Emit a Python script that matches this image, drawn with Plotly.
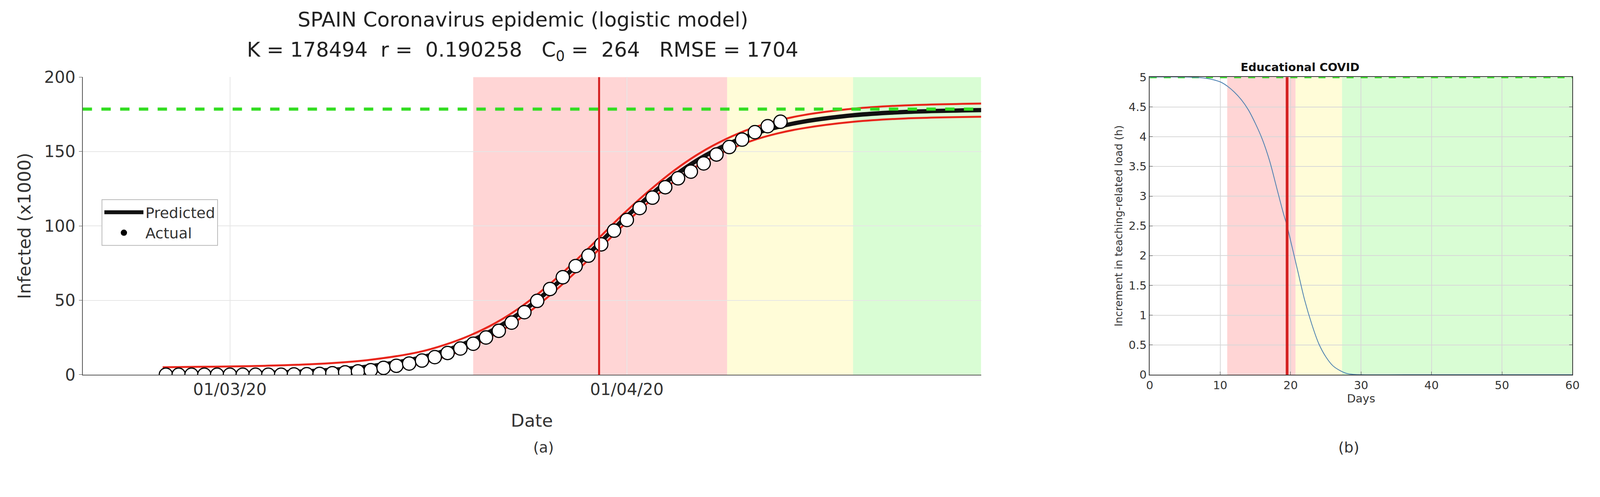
import plotly.graph_objects as go
import pandas as pd

# ---- panel (a) data ----
actual_k = [0.0] * 10 + [0.2, 0.3, 0.5, 1.0, 1.6, 2.2, 3.0, 4.6, 6.0, 7.5, 9.5, 11.8] + \
           [14.6, 17.6, 20.8, 25.0, 29.5, 35.0, 42.0, 49.6, 57.6, 65.5, 73.0, 80.0, 87.6, 96.8,
            104.0, 112.0, 119.0, 126.0, 132.0, 136.5, 142.0, 148.0, 153.0, 158.0, 163.0, 167.0, 170.0]
actual_dates = pd.date_range(end="2020-04-13", periods=len(actual_k)).strftime("%Y-%m-%d").tolist()

pred_days = [0, 4, 8, 12, 16, 20, 22, 24, 26, 28, 30, 32, 34, 36, 38, 40, 42, 44, 46, 48, 50, 54, 58, 64.2]
pred_k = [0.27, 0.57, 1.22, 2.59, 5.46, 11.2, 16.0, 22.5, 31.0, 42.0, 55.4, 70.8, 87.5, 104.4,
          120.0, 133.9, 145.4, 154.4, 161.4, 166.4, 170.0, 174.4, 176.6, 177.9]
upper_k = [5.0, 5.4, 6.0, 7.2, 9.8, 15.2, 20.0, 26.4, 34.8, 45.7, 59.2, 74.6, 91.3, 108.2,
           123.7, 137.6, 149.2, 158.4, 165.6, 170.7, 174.4, 178.8, 181.0, 182.3]
lower_k = [-4.5, -4.2, -3.6, -2.1, 1.1, 7.2, 12.0, 18.6, 27.2, 38.3, 51.6, 66.9, 83.6, 100.6,
           116.3, 130.2, 141.6, 150.4, 157.2, 162.1, 165.6, 170.0, 172.2, 173.4]
k_asym = 178.494
base = pd.Timestamp("2020-02-24 18:00")
pred_dates = [(base + pd.Timedelta(days=d)).strftime("%Y-%m-%d %H:%M") for d in pred_days]

zone_a = ["2020-03-20", "2020-04-08 20:00", "2020-04-18 16:00", "2020-04-28 16:00"]
peak_a = "2020-03-29 20:00"
xrange_a = ["2020-02-18 12:00", "2020-04-28 16:00"]

# ---- panel (b) data ----
days_b = [0, 5, 8, 10, 11, 12, 13, 14, 15, 16, 17, 18, 19, 19.5, 20, 21, 22, 23, 24, 25, 26, 27, 28, 29, 30, 40, 50, 60]
load_b = [5.0, 5.0, 4.98, 4.92, 4.85, 4.75, 4.62, 4.45, 4.22, 3.95, 3.6, 3.15, 2.7, 2.5, 2.25, 1.75, 1.25, 0.85, 0.52, 0.3, 0.15, 0.07, 0.02, 0.005, 0.0, 0.0, 0.0, 0.0]
zone_b = [11, 20.7, 27.3, 60]
peak_b = 19.5

RED = "rgba(255,150,150,0.4)"
YEL = "rgba(255,250,190,0.6)"
GRN = "rgba(170,250,160,0.45)"

fig = go.Figure()
fig.add_trace(go.Scatter(x=pred_dates, y=upper_k, mode="lines", line=dict(color="#e8261c", width=5, shape="spline"), showlegend=False, xaxis="x", yaxis="y"))
fig.add_trace(go.Scatter(x=pred_dates, y=lower_k, mode="lines", line=dict(color="#e8261c", width=5, shape="spline"), showlegend=False, xaxis="x", yaxis="y"))
fig.add_trace(go.Scatter(x=pred_dates, y=pred_k, mode="lines", name="Predicted", line=dict(color="#111", width=11, shape="spline"), xaxis="x", yaxis="y"))
fig.add_trace(go.Scatter(x=[xrange_a[0], xrange_a[1]], y=[k_asym, k_asym], mode="lines", line=dict(color="#33dd22", width=8, dash="dash"), showlegend=False, xaxis="x", yaxis="y"))
fig.add_trace(go.Scatter(x=actual_dates, y=actual_k, mode="markers", marker=dict(size=34, color="white", line=dict(color="black", width=3)), showlegend=False, xaxis="x", yaxis="y"))
fig.add_trace(go.Scatter(x=[None], y=[None], mode="markers", name="Actual", marker=dict(size=30, color="black"), xaxis="x", yaxis="y"))

fig.add_trace(go.Scatter(x=[0, 60], y=[5, 5], mode="lines", line=dict(color="#33dd22", width=6, dash="dash"), showlegend=False, xaxis="x2", yaxis="y2"))
fig.add_trace(go.Scatter(x=days_b, y=load_b, mode="lines", line=dict(color="#4a7fb0", width=2, shape="spline"), showlegend=False, xaxis="x2", yaxis="y2"))

shapes = []
for (x0, x1, c) in [(zone_a[0], zone_a[1], RED), (zone_a[1], zone_a[2], YEL), (zone_a[2], zone_a[3], GRN)]:
    shapes.append(dict(type="rect", xref="x", yref="y", x0=x0, x1=x1, y0=0, y1=200, fillcolor=c, line_width=0, layer="below"))
shapes.append(dict(type="line", xref="x", yref="y", x0=peak_a, x1=peak_a, y0=0, y1=200, line=dict(color="#d42020", width=5)))
for (x0, x1, c) in [(zone_b[0], zone_b[1], RED), (zone_b[1], zone_b[2], YEL), (zone_b[2], zone_b[3], GRN)]:
    shapes.append(dict(type="rect", xref="x2", yref="y2", x0=x0, x1=x1, y0=0, y1=5, fillcolor=c, line_width=0, layer="below"))
shapes.append(dict(type="line", xref="x2", yref="y2", x0=peak_b, x1=peak_b, y0=0, y1=5, line=dict(color="#d42020", width=7)))

F = "DejaVu Sans"
YD = [0.232, 0.863]
fig.update_layout(
    autosize=True, margin=dict(l=0, r=0, t=0, b=0),
    paper_bgcolor="white", plot_bgcolor="white", font=dict(family=F, color="#333"),
    shapes=shapes,
    xaxis=dict(domain=[0.048, 0.6155], type="date", range=xrange_a,
               tickvals=["2020-03-01", "2020-04-01"], ticktext=["01/03/20", "01/04/20"],
               tickfont=dict(size=42), showgrid=True, gridcolor="#e6e6e6", gridwidth=2,
               showline=True, linecolor="#555", linewidth=2, zeroline=False,
               title=dict(text="Date", font=dict(size=45), standoff=40)),
    yaxis=dict(domain=YD, range=[0, 200], tickvals=[0, 50, 100, 150, 200],
               tickfont=dict(size=42), showgrid=True, gridcolor="#e6e6e6", gridwidth=2,
               showline=True, linecolor="#555", linewidth=2, zeroline=False, ticks="outside", ticklen=8,
               title=dict(text="Infected (x1000)", font=dict(size=45), standoff=20)),
    xaxis2=dict(domain=[0.722, 0.989], range=[0, 60], anchor="y2", tickvals=[0, 10, 20, 30, 40, 50, 60],
                tickfont=dict(size=29), showgrid=True, gridcolor="#d8d8d8", gridwidth=1.5,
                showline=True, linecolor="#333", linewidth=2, mirror=True, zeroline=False,
                ticks="inside", ticklen=8, title=dict(text="Days", font=dict(size=29), standoff=8)),
    yaxis2=dict(domain=YD, range=[0, 5], anchor="x2", dtick=0.5,
                tickfont=dict(size=29), showgrid=True, gridcolor="#d8d8d8", gridwidth=1.5,
                showline=True, linecolor="#333", linewidth=2, mirror="ticks", zeroline=False,
                ticks="inside", ticklen=8,
                title=dict(text="Increment in teaching-related load (h)", font=dict(size=27), standoff=8)),
    legend=dict(x=0.060, y=0.604, xanchor="left", yanchor="top", bgcolor="white",
                bordercolor="#bbb", borderwidth=2, font=dict(size=38), itemwidth=100),
    annotations=[
        dict(text="SPAIN Coronavirus epidemic (logistic model)", x=0.326, y=0.985, xref="paper", yref="paper",
             xanchor="center", yanchor="middle", showarrow=False, font=dict(size=52, color="#222")),
        dict(text="K = 178494  r =  0.190258   C<sub>0</sub> =  264   RMSE = 1704", x=0.326, y=0.918,
             xref="paper", yref="paper", xanchor="center", yanchor="middle", showarrow=False,
             font=dict(size=52, color="#222")),
        dict(text="(a)", x=0.332, y=0.058, xref="paper", yref="paper", showarrow=False, font=dict(size=38)),
        dict(text="<b>Educational COVID</b>", x=0.855, y=0.868, xref="paper", yref="paper", yanchor="bottom",
             showarrow=False, font=dict(size=29, color="#111")),
        dict(text="(b)", x=0.855, y=0.058, xref="paper", yref="paper", showarrow=False, font=dict(size=38)),
    ],
)
fig.write_html("out.html", default_width="100%", default_height="100%", config={"responsive": True})
